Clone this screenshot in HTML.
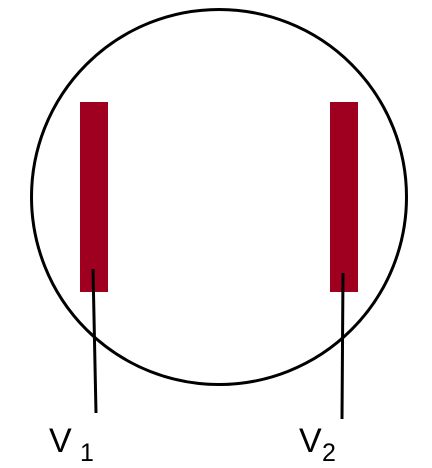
<!DOCTYPE html>
<html><head><style>body{margin:0;background:#fff}svg{display:block}</style></head>
<body>
<svg width="432" height="468" viewBox="0 0 432 468">
<circle cx="219" cy="197" r="187.5" fill="none" stroke="#000" stroke-width="3"/>
<rect x="80" y="102" width="28" height="190" fill="#a00020"/>
<rect x="330" y="102" width="28" height="190" fill="#a00020"/>
<line x1="93" y1="269" x2="96" y2="413" stroke="#000" stroke-width="3"/>
<line x1="343" y1="273" x2="342" y2="419" stroke="#000" stroke-width="3"/>
<text x="49" y="452" font-family="Liberation Sans, sans-serif" font-size="34">V<tspan x="80" y="461" font-size="25">1</tspan></text>
<text x="299" y="452" font-family="Liberation Sans, sans-serif" font-size="34">V<tspan x="322" y="461" font-size="25">2</tspan></text>
</svg>
</body></html>
